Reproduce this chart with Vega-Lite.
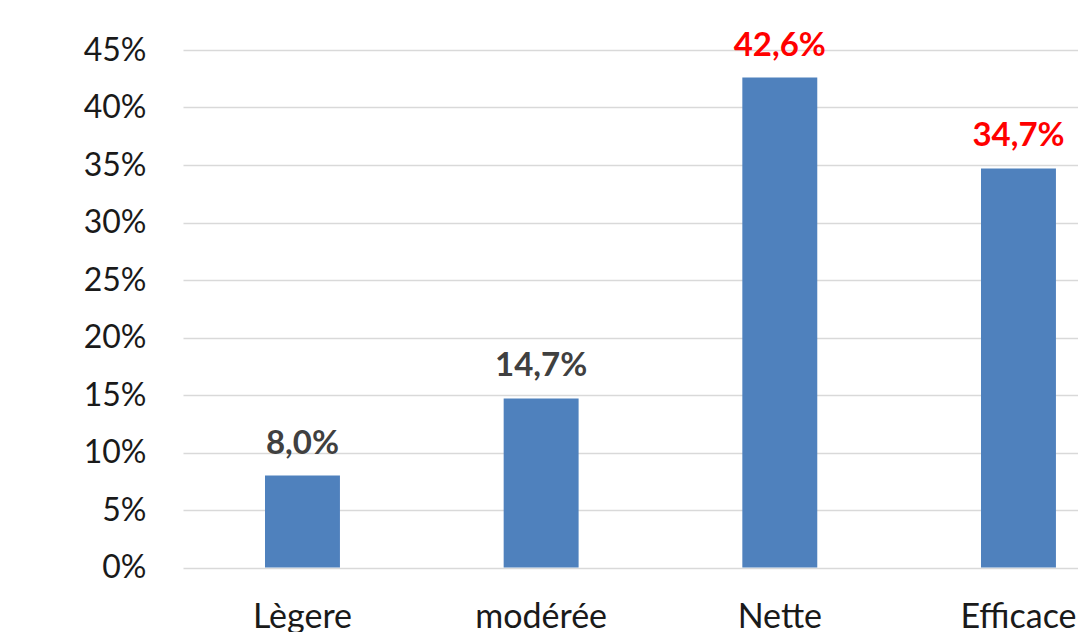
{
  "$schema": "https://vega.github.io/schema/vega-lite/v6.json",
  "width": 895,
  "height": 517.5,
  "autosize": "none",
  "padding": {"left": 183, "top": 50, "right": 0, "bottom": 64.5},
  "background": "white",
  "config": {"view": {"stroke": null}, "font": "Lato"},
  "data": {"values": [
    {"cat": "Lègere", "valeur": 0.080, "label": "8,0%"},
    {"cat": "modérée", "valeur": 0.147, "label": "14,7%"},
    {"cat": "Nette", "valeur": 0.426, "label": "42,6%"},
    {"cat": "Efficace", "valeur": 0.347, "label": "34,7%"}
  ]},
  "encoding": {
    "x": {"field": "cat", "type": "nominal", "sort": null,
      "scale": {"paddingInner": 0.686, "paddingOuter": 0.218, "align": 0.788},
      "axis": {"title": null, "labelAngle": 0, "labelFontSize": 34, "labelColor": "#1a1a1a", "labelPadding": 33, "ticks": false, "domain": false, "labelFont": "Lato"}},
    "y": {"field": "valeur", "type": "quantitative",
      "scale": {"domain": [0, 0.45], "nice": false},
      "axis": {"title": null, "format": ".0%", "values": [0,0.05,0.1,0.15,0.2,0.25,0.3,0.35,0.4,0.45], "labelFontSize": 32, "labelColor": "#1a1a1a", "labelPadding": 37, "ticks": false, "domain": false, "gridColor": "#d9d9d9", "gridWidth": 1.5, "labelFont": "Lato"}}
  },
  "layer": [
    {"mark": {"type": "bar", "color": "#4F81BD"}},
    {"mark": {"type": "text", "baseline": "alphabetic", "dy": -22, "fontSize": 33, "fontWeight": "bold", "font": "Lato"},
     "encoding": {
       "text": {"field": "label"},
       "color": {"condition": {"test": "datum.valeur > 0.3", "value": "#FF0000"}, "value": "#404040"}
     }}
  ]
}
